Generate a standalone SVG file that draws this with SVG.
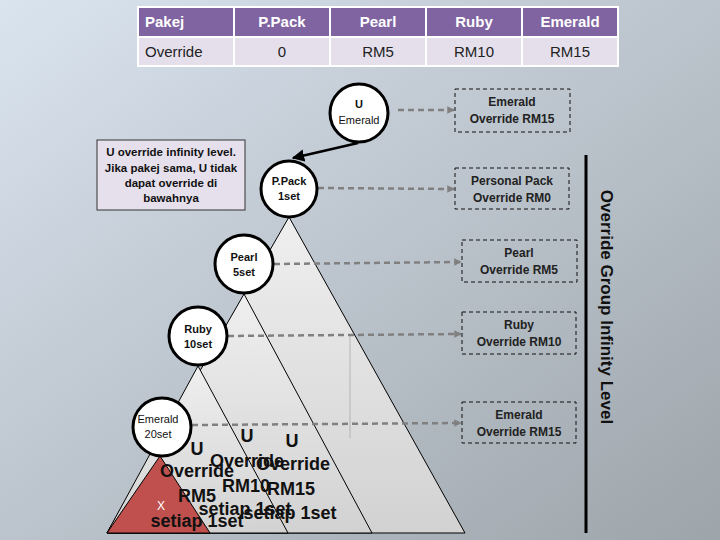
<svg xmlns="http://www.w3.org/2000/svg" width="720" height="540" viewBox="0 0 720 540">
<defs>
<linearGradient id="bg" x1="0" y1="0" x2="1" y2="1">
<stop offset="0" stop-color="#dae4ef"/>
<stop offset="1" stop-color="#9da4aa"/>
</linearGradient>
<linearGradient id="tri" x1="0" y1="0" x2="0" y2="1">
<stop offset="0" stop-color="#efefef"/>
<stop offset="1" stop-color="#d2d2d2"/>
</linearGradient>
<marker id="ah" viewBox="0 0 10 10" refX="9" refY="5" markerWidth="5" markerHeight="5" orient="auto" markerUnits="strokeWidth">
<path d="M0,0 L10,5 L0,10 z" fill="#000"/>
</marker>
<marker id="gh" viewBox="0 0 10 10" refX="9" refY="5" markerWidth="3" markerHeight="3" orient="auto" markerUnits="strokeWidth">
<path d="M0,0 L10,5 L0,10 z" fill="#808080"/>
</marker>
</defs>
<style>
.th{fill:#8064a2;stroke:#fff;stroke-width:2}
.tb{fill:#e5dfec;stroke:#fff;stroke-width:2}
.tht{font-family:"Liberation Sans",Arial,sans-serif;font-size:15px;font-weight:bold;fill:#fff}
.tbt{font-family:"Liberation Sans",Arial,sans-serif;font-size:15px;fill:#222}
.c{text-anchor:middle}
.circ{fill:#fff;stroke:#000;stroke-width:3}
.ct{font-family:"Liberation Sans",Arial,sans-serif;font-size:11px;font-weight:bold;fill:#111;text-anchor:middle}
.ctr{font-family:"Liberation Sans",Arial,sans-serif;font-size:11px;fill:#111;text-anchor:middle}
.tri{fill:url(#tri);stroke:#000;stroke-width:1}
.dbox{fill:none;stroke:#111;stroke-width:1;stroke-dasharray:4,3}
.dt{font-family:"Liberation Sans",Arial,sans-serif;font-size:12px;font-weight:bold;fill:#222;text-anchor:middle}
.dash{fill:none;stroke:#808080;stroke-width:2.5;stroke-dasharray:6,4;marker-end:url(#gh)}
.nt{font-family:"Liberation Sans",Arial,sans-serif;font-size:11.5px;font-weight:bold;fill:#111;text-anchor:middle}
.bt{font-family:"Liberation Sans",Arial,sans-serif;font-size:18px;font-weight:bold;fill:#111;text-anchor:middle}
</style>
<rect x="0" y="0" width="720" height="540" fill="url(#bg)"/>

<g id="table">
<rect class="th" x="138" y="7" width="96" height="30"/>
<rect class="th" x="234" y="7" width="96" height="30"/>
<rect class="th" x="330" y="7" width="96" height="30"/>
<rect class="th" x="426" y="7" width="96" height="30"/>
<rect class="th" x="522" y="7" width="96" height="30"/>
<rect class="tb" x="138" y="37" width="96" height="29"/>
<rect class="tb" x="234" y="37" width="96" height="29"/>
<rect class="tb" x="330" y="37" width="96" height="29"/>
<rect class="tb" x="426" y="37" width="96" height="29"/>
<rect class="tb" x="522" y="37" width="96" height="29"/>
<text class="tht" x="145" y="27">Pakej</text>
<text class="tht c" x="282" y="27">P.Pack</text>
<text class="tht c" x="378" y="27">Pearl</text>
<text class="tht c" x="474" y="27">Ruby</text>
<text class="tht c" x="570" y="27">Emerald</text>
<text class="tbt" x="145" y="57">Override</text>
<text class="tbt c" x="282" y="57">0</text>
<text class="tbt c" x="378" y="57">RM5</text>
<text class="tbt c" x="474" y="57">RM10</text>
<text class="tbt c" x="570" y="57">RM15</text>
</g>

<g id="triangles">
<polygon id="tri-ppack" class="tri" points="289,217 465,533 107,533"/>
<polygon id="tri-pearl" class="tri" points="244,294 372,533 107,533"/>
<polygon id="tri-ruby" class="tri" points="198,366 288,533 107,533"/>
<polygon id="tri-emerald" points="160,456 210,533 107,533" fill="#c0504d" stroke="#000" stroke-width="1"/>
</g>

<line x1="350" y1="334" x2="350" y2="438" stroke="#b4b4b4" stroke-width="1"/>

<g id="connectors">
<line x1="358" y1="143" x2="293" y2="158" stroke="#000" stroke-width="2.5" marker-end="url(#ah)"/>
<path class="dash" d="M398,110 L454,110"/>
<path class="dash" d="M318,188 L454,189"/>
<path class="dash" d="M274,264 L461,262"/>
<path class="dash" d="M228,336 L461,334"/>
<path class="dash" d="M192,425 L461,423"/>
<line x1="586" y1="155" x2="586" y2="533" stroke="#000" stroke-width="3"/>
</g>

<g id="note">
<rect x="97" y="140" width="148" height="70" fill="#e6e0ec" stroke="#333" stroke-width="1"/>
<text class="nt" x="171" y="156">U override infinity level.</text>
<text class="nt" x="171" y="172">Jika pakej sama, U tidak</text>
<text class="nt" x="171" y="187">dapat override di</text>
<text class="nt" x="171" y="202">bawahnya</text>
</g>

<g id="node-u-emerald">
<circle class="circ" cx="359" cy="113" r="29"/>
<text class="ct" x="359" y="108">U</text>
<text class="ctr" x="359" y="124">Emerald</text>
</g>
<g id="node-ppack">
<circle class="circ" cx="289" cy="189" r="28"/>
<text class="ct" x="289" y="185">P.Pack</text>
<text class="ct" x="289" y="200">1set</text>
</g>
<g id="node-pearl">
<circle class="circ" cx="244" cy="264" r="29"/>
<text class="ct" x="244" y="261">Pearl</text>
<text class="ct" x="244" y="276">5set</text>
</g>
<g id="node-ruby">
<circle class="circ" cx="198" cy="336" r="29"/>
<text class="ct" x="198" y="333">Ruby</text>
<text class="ct" x="198" y="348">10set</text>
</g>
<g id="node-emerald">
<circle class="circ" cx="162" cy="427" r="29"/>
<text class="ctr" x="158" y="423">Emerald</text>
<text class="ctr" x="158" y="438">20set</text>
</g>

<g id="box-emerald-top">
<rect class="dbox" x="455" y="89" width="115" height="43"/>
<text class="dt" x="512" y="106">Emerald</text>
<text class="dt" x="512" y="123">Override RM15</text>
</g>
<g id="box-ppack">
<rect class="dbox" x="455" y="168" width="114" height="41"/>
<text class="dt" x="512" y="185">Personal Pack</text>
<text class="dt" x="512" y="202">Override RM0</text>
</g>
<g id="box-pearl">
<rect class="dbox" x="462" y="240" width="115" height="42"/>
<text class="dt" x="519" y="257">Pearl</text>
<text class="dt" x="519" y="274">Override RM5</text>
</g>
<g id="box-ruby">
<rect class="dbox" x="462" y="312" width="114" height="42"/>
<text class="dt" x="519" y="329">Ruby</text>
<text class="dt" x="519" y="346">Override RM10</text>
</g>
<g id="box-emerald-bottom">
<rect class="dbox" x="462" y="402" width="114" height="41"/>
<text class="dt" x="519" y="419">Emerald</text>
<text class="dt" x="519" y="436">Override RM15</text>
</g>

<text x="0" y="0" transform="translate(601,307) rotate(90)" font-family="Liberation Sans,Arial,sans-serif" font-size="17" font-weight="bold" fill="#111" text-anchor="middle">Override Group Infinity Level</text>

<g id="labels-bottom">
<text class="bt" x="197" y="455">U</text>
<text class="bt" x="197" y="477">Override</text>
<text class="bt" x="197" y="502">RM5</text>
<text x="161" y="510" font-family="Liberation Sans,Arial,sans-serif" font-size="12" fill="#fff" text-anchor="middle">X</text>
<text class="bt" x="197" y="527">setiap 1set</text>
<text class="bt" x="247" y="442">U</text>
<text class="bt" x="247" y="467">Override</text>
<text class="bt" x="246" y="492">RM10</text>
<text class="bt" x="245" y="515">setiap 1set</text>
<text class="bt" x="292" y="447">U</text>
<text class="bt" x="293" y="470">Override</text>
<text class="bt" x="291" y="495">RM15</text>
<text class="bt" x="290" y="519">setiap 1set</text>
</g>
</svg>
